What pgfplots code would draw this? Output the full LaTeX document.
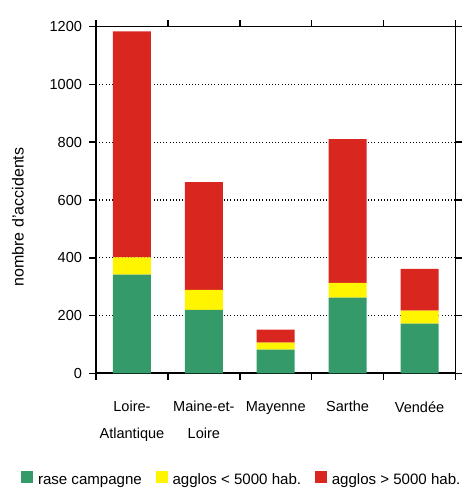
\documentclass[border=0pt]{standalone}
\usepackage{pgfplots}
\pgfplotsset{compat=1.18}
\usepackage{fontspec}
\setmainfont{Liberation Sans}
\definecolor{cgreen}{RGB}{53,154,105}
\definecolor{cyellow}{RGB}{255,245,0}
\definecolor{cred}{RGB}{217,38,30}
\pgfplotstableread{
x green yellow red
0 342 59 783
1 220 69 373
2 82 24 45
3 262 51 498
4 172 45 145
}\data
\begin{document}
\begin{tikzpicture}
\useasboundingbox (-72pt,-86pt) rectangle (278.25pt,280pt);
\begin{axis}[
  scale only axis,
  width=269.6pt, height=260pt,
  ybar stacked, bar width=28.5pt,
  xmin=-0.5, xmax=4.5, ymin=0, ymax=1200,
  ytick={0,200,...,1200},
  xtick={0,1,2,3,4},
  xticklabels={{Loire-\\Atlantique},{Maine-et-\\Loire},{Mayenne},{Sarthe},{Vendée}},
  minor xtick={-0.5,0.5,...,4.5},
  major x tick style={draw=none},
  minor tick length=5pt,
  major tick length=5pt,
  tick align=outside,
  every tick/.style={black, line width=1.1pt},
  xticklabel style={align=center, font=\fontsize{10.9}{20}\selectfont, yshift=-12.5pt},
  yticklabel style={font=\fontsize{10.9}{12}\selectfont, xshift=-2pt},
  /pgf/number format/assume math mode=true,
  /pgf/number format/1000 sep={},
  ymajorgrids, grid style={black, dotted, line width=0.8pt},
  axis line style={black, line width=0.6pt},
  ylabel={nombre d'accidents},
  ylabel style={at={(rel axis cs:-0.217,0.451)}, anchor=center, font=\fontsize{12}{14}\selectfont},
  legend columns=3,
  legend style={at={(rel axis cs:0.403,-0.331)}, anchor=south, draw=none, inner sep=0pt,
    font=\fontsize{11.3}{13}\selectfont,
    nodes={text height=8pt, text depth=2.5pt, inner sep=0pt},
    /tikz/every odd column/.append style={column sep=3.5pt},
    /tikz/every even column/.append style={column sep=10.5pt}},
  legend image code/.code={\fill[#1] (0pt,-1.5pt) rectangle (9pt,7pt);},
  clip=false,
]
\addplot[fill=cgreen, draw=none] table[x=x,y=green]{\data};
\addplot[fill=cyellow, draw=none] table[x=x,y=yellow]{\data};
\addplot[fill=cred, draw=none] table[x=x,y=red]{\data};
\legend{rase campagne, agglos < 5000 hab., agglos > 5000 hab.}
\draw[line width=1.5pt] (rel axis cs:0,1) -- (rel axis cs:0,0) -- (rel axis cs:1,0);
\end{axis}
\end{tikzpicture}
\end{document}
